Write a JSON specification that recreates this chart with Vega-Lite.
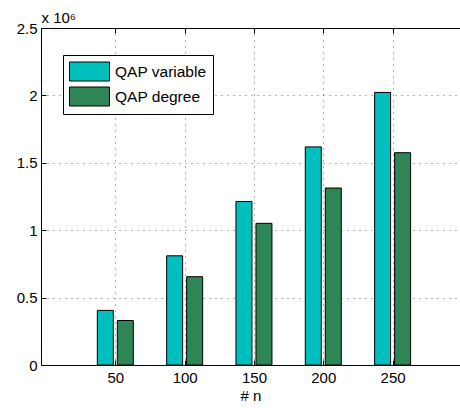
{
  "$schema": "https://vega.github.io/schema/vega-lite/v6.json",
  "autosize": "none",
  "padding": {"left": 41, "top": 28, "right": 0, "bottom": 43},
  "width": 419,
  "height": 337,
  "background": "white",
  "config": {
    "font": "Liberation Sans",
    "view": {"stroke": null},
    "axis": {
      "domainColor": "black",
      "domainWidth": 1,
      "tickColor": "black",
      "tickWidth": 1,
      "tickSize": -5,
      "labelColor": "black",
      "labelFontSize": 15,
      "titleFontSize": 15,
      "titleFontWeight": "normal",
      "titleColor": "black",
      "gridColor": "#666666",
      "gridDash": [1, 5],
      "gridOpacity": 1,
      "gridWidth": 1
    }
  },
  "data": {
    "values": [
      {"n": 50, "series": "QAP variable", "value": 405000},
      {"n": 50, "series": "QAP degree", "value": 330000},
      {"n": 100, "series": "QAP variable", "value": 810000},
      {"n": 100, "series": "QAP degree", "value": 655000},
      {"n": 150, "series": "QAP variable", "value": 1213000},
      {"n": 150, "series": "QAP degree", "value": 1051000},
      {"n": 200, "series": "QAP variable", "value": 1618000},
      {"n": 200, "series": "QAP degree", "value": 1313000},
      {"n": 250, "series": "QAP variable", "value": 2022000},
      {"n": 250, "series": "QAP degree", "value": 1575000}
    ]
  },
  "resolve": {"axis": {"x": "independent", "y": "independent"}},
  "layer": [
    {
      "transform": [{"filter": "datum.series == 'QAP variable'"}],
      "mark": {"type": "bar", "width": 16, "xOffset": -10, "stroke": "black", "strokeWidth": 1},
      "encoding": {
        "x": {
          "field": "n", "type": "quantitative",
          "scale": {"domain": [0, 295], "nice": false, "zero": false},
          "axis": {"values": [50, 100, 150, 200, 250], "grid": true, "title": "# n", "labelPadding": 10, "titlePadding": 3}
        },
        "y": {
          "field": "value", "type": "quantitative",
          "scale": {"domain": [0, 2500000], "nice": false},
          "axis": {
            "values": [0, 500000, 1000000, 1500000, 2000000, 2500000],
            "labelExpr": "datum.value / 1000000",
            "grid": true,
            "labelPadding": 9,
            "title": "x 10⁶",
            "titleAngle": 0,
            "titleX": 0,
            "titleY": -6,
            "titleAlign": "left",
            "titleBaseline": "alphabetic"
          }
        },
        "color": {
          "field": "series", "type": "nominal",
          "scale": {"domain": ["QAP variable", "QAP degree"], "range": ["#00BFBF", "#2E8555"]},
          "legend": {
            "orient": "none", "legendX": 22, "legendY": 27, "title": null,
            "strokeColor": "black", "fillColor": "white", "padding": 6,
            "labelFontSize": 15.5, "labelColor": "black", "labelOffset": 25,
            "symbolType": "M-1,-0.95L3,-0.95L3,0.95L-1,0.95Z",
            "symbolSize": 400, "symbolStrokeColor": "black", "symbolStrokeWidth": 1,
            "symbolOpacity": 1, "rowPadding": 2
          }
        }
      }
    },
    {
      "transform": [{"filter": "datum.series == 'QAP degree'"}],
      "mark": {"type": "bar", "width": 16, "xOffset": 10, "stroke": "black", "strokeWidth": 1},
      "encoding": {
        "x": {
          "field": "n", "type": "quantitative",
          "axis": {"orient": "top", "values": [50, 100, 150, 200, 250], "grid": false, "labels": false, "title": null}
        },
        "y": {
          "field": "value", "type": "quantitative",
          "axis": null
        },
        "color": {"field": "series", "type": "nominal"}
      }
    }
  ]
}
